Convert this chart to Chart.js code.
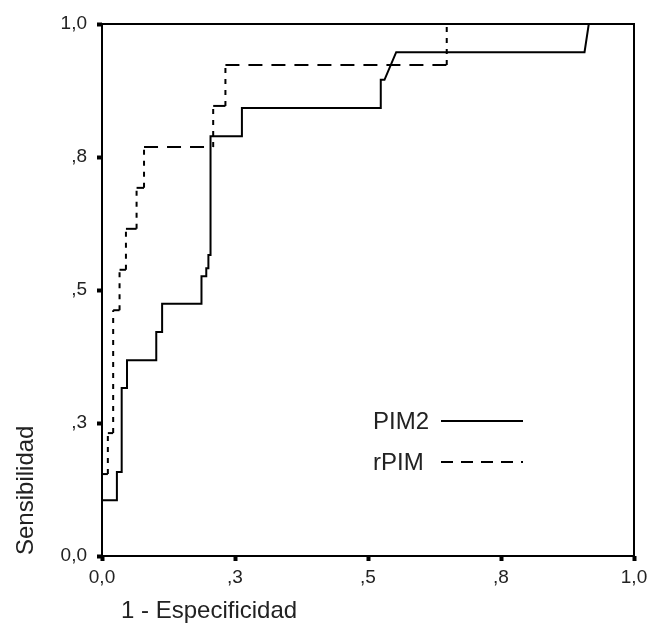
<!DOCTYPE html>
<html>
<head>
<meta charset="utf-8">
<script src="https://cdn.jsdelivr.net/npm/chart.js@4"></script>
<style>
    html, body { margin: 0; padding: 0; background: #fff; }
    #wrap { width: 648px; height: 623px; }
</style>
</head>
<body>
<div id="wrap"><canvas id="rocChart"></canvas></div>
<script>
    // ROC curves (step corners listed explicitly)
    const pim2X = [0, 0, 0.028, 0.028, 0.037, 0.037, 0.047, 0.047, 0.102, 0.102, 0.113, 0.113, 0.187, 0.187,
        0.196, 0.196, 0.200, 0.200, 0.204, 0.204, 0.263, 0.263, 0.524, 0.524, 0.531, 0.553, 0.907, 0.915, 1];
    const pim2Y = [0, 0.105, 0.105, 0.158, 0.158, 0.316, 0.316, 0.368, 0.368, 0.421, 0.421, 0.474, 0.474, 0.526,
        0.526, 0.541, 0.541, 0.566, 0.566, 0.789, 0.789, 0.842, 0.842, 0.895, 0.895, 0.947, 0.947, 1, 1];

    const rpimX = [0, 0, 0.011, 0.011, 0.021, 0.021, 0.033, 0.033, 0.045, 0.045, 0.065, 0.065, 0.079, 0.079,
        0.209, 0.209, 0.232, 0.232, 0.648, 0.648, 1];
    const rpimY = [0, 0.154, 0.154, 0.231, 0.231, 0.462, 0.462, 0.538, 0.538, 0.615, 0.615, 0.692, 0.692, 0.769,
        0.769, 0.846, 0.846, 0.923, 0.923, 1, 1];

    const tickValues = [0, 0.25, 0.5, 0.75, 1];
    const tickLabels = ['0,0', ',3', ',5', ',8', '1,0'];

    const seriesNames = ['PIM2', 'rPIM'];
    const xTitle = '1 - Especificidad';
    const yTitle = 'Sensibilidad';

    const textColor = '#222';
    const fontFamily = '"Liberation Sans", Arial, sans-serif';

    const toPoints = (xs, ys) => xs.map((x, i) => ({ x: x, y: ys[i] }));

    // short dashes on vertical steps, longer ones on horizontal runs
    const dashFor = (ctx) => ctx.p0.parsed.x === ctx.p1.parsed.x ? [5, 6] : [14, 9];

    // box around the plot, axis titles and the inside legend
    const framePlugin = {
        id: 'frame',
        afterDraw(chart) {
            const { ctx, chartArea } = chart;
            ctx.save();
            ctx.strokeStyle = '#000';
            ctx.lineWidth = 2;
            ctx.strokeRect(chartArea.left, chartArea.top,
                chartArea.right - chartArea.left, chartArea.bottom - chartArea.top);

            ctx.fillStyle = textColor;
            ctx.font = '24px ' + fontFamily;
            ctx.textBaseline = 'alphabetic';
            ctx.textAlign = 'left';
            ctx.fillText(xTitle, 121, 618);

            ctx.save();
            ctx.translate(33, 555);
            ctx.rotate(-Math.PI / 2);
            ctx.fillText(yTitle, 0, 0);
            ctx.restore();

            // legend
            const rows = [429, 470];
            chart.data.datasets.forEach((ds, i) => {
                ctx.fillStyle = textColor;
                ctx.fillText(ds.label, 373, rows[i]);
                ctx.beginPath();
                ctx.strokeStyle = '#000';
                ctx.lineWidth = 2;
                ctx.setLineDash(i === 1 ? [12, 8] : []);
                ctx.moveTo(441, rows[i] - 8);
                ctx.lineTo(523, rows[i] - 8);
                ctx.stroke();
            });
            ctx.setLineDash([]);
            ctx.restore();
        }
    };

    const axisOpts = (fitFn, pad) => ({
        type: 'linear',
        min: 0,
        max: 1,
        afterBuildTicks: (scale) => { scale.ticks = tickValues.map(v => ({ value: v })); },
        afterFit: fitFn,
        border: { display: false },
        grid: {
            drawOnChartArea: false,
            drawTicks: true,
            tickLength: 5,
            tickWidth: 4,
            tickColor: '#000'
        },
        ticks: {
            autoSkip: false,
            maxRotation: 0,
            padding: pad,
            color: textColor,
            font: { family: fontFamily, size: 19 },
            callback: (value, index) => tickLabels[index]
        }
    });

    const rocCtx = document.getElementById('rocChart').getContext('2d');
    new Chart(rocCtx, {
        type: 'line',
        data: {
            datasets: [{
                label: seriesNames[0],
                data: toPoints(pim2X, pim2Y),
                borderColor: '#000',
                borderWidth: 2,
                pointRadius: 0,
                tension: 0,
                fill: false
            }, {
                label: seriesNames[1],
                data: toPoints(rpimX, rpimY),
                borderColor: '#000',
                borderWidth: 2,
                pointRadius: 0,
                tension: 0,
                fill: false,
                segment: { borderDash: dashFor }
            }]
        },
        options: {
            responsive: true,
            maintainAspectRatio: false,
            animation: false,
            layout: { padding: { left: 0, right: 14, top: 24, bottom: 0 } },
            plugins: {
                legend: { display: false },
                tooltip: { enabled: false }
            },
            scales: {
                x: axisOpts((scale) => {
                    scale.height = 67;
                    scale.paddingLeft = 0;
                    scale.paddingRight = 0;
                }, 5),
                y: axisOpts((scale) => {
                    scale.width = 102;
                    scale.paddingTop = 0;
                    scale.paddingBottom = 0;
                }, 10)
            }
        },
        plugins: [framePlugin]
    });
</script>
</body>
</html>
